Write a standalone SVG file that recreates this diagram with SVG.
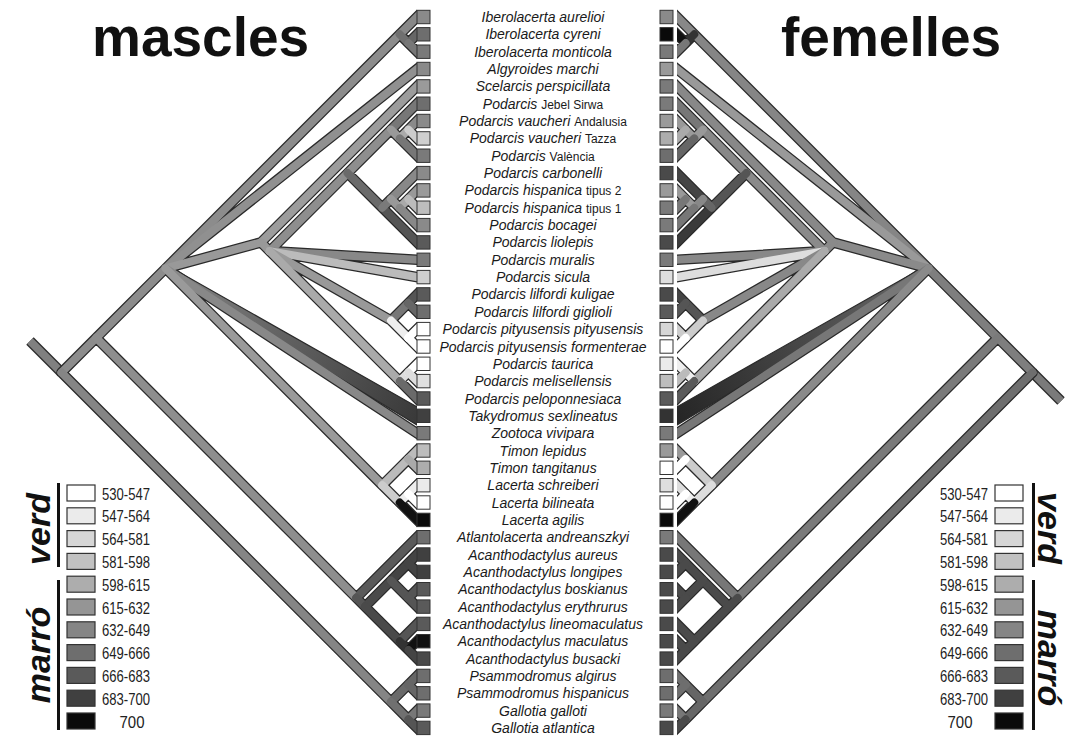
<svg xmlns="http://www.w3.org/2000/svg" xmlns:xlink="http://www.w3.org/1999/xlink" width="1079" height="738" viewBox="0 0 1079 738">
<style>
.o{fill:none;stroke:#2a2a2a;stroke-width:10.5;stroke-linecap:round;stroke-linejoin:round}
.f{fill:none;stroke-width:8;stroke-linecap:round;stroke-linejoin:round}
.so{fill:none;stroke:#2a2a2a;stroke-width:10.5;stroke-linecap:butt}
.sf{fill:none;stroke-width:8;stroke-linecap:butt}
.tk{stroke:#2a2a2a;stroke-width:1.2;stroke-linejoin:round}
.sq{stroke:#333;stroke-width:1}
.sp{font-family:"Liberation Sans",Arial,sans-serif;font-size:14px;font-style:italic;fill:#1a1a1a;text-anchor:middle}
.sm{font-style:normal;font-size:12px}
.lb{stroke:#333;stroke-width:1.2}
.lg{font-family:"Liberation Sans",Arial,sans-serif;font-size:17px;fill:#222}
.ti{font-family:"Liberation Sans",Arial,sans-serif;font-weight:bold;font-size:55px;fill:#111}
.rot{font-family:"Liberation Sans",Arial,sans-serif;font-weight:bold;font-style:italic;font-size:34px;fill:#111;text-anchor:middle}
</style>
<defs>
<clipPath id="clipL"><rect x="0" y="0" width="417" height="738"/></clipPath>
<linearGradient id="gTakM" gradientUnits="userSpaceOnUse" x1="165" y1="268" x2="417" y2="416"><stop offset="0" stop-color="#858585"/><stop offset="1" stop-color="#3a3a3a"/></linearGradient>
<linearGradient id="gTakF" gradientUnits="userSpaceOnUse" x1="165" y1="268" x2="417" y2="416"><stop offset="0" stop-color="#6a6a6a"/><stop offset="1" stop-color="#262626"/></linearGradient>
<path id="tak" d="M163.8 271.4L422.95 428.6L431.05 414.8L167.4 265.4Z"/>
<path id="E" d="M61.5 372.5L96.2 337.8M96.2 337.8L165.6 268.4M165.6 268.4L399.7 34.3M399.7 34.3L427 7M399.7 34.3L408.3 43M408.3 43L427 24.3M408.3 43L427 61.7M165.6 268.4L427 61.1M165.6 268.4L261 242.4M261 242.4L427 76.4M261 242.4L269.6 251.1M269.6 251.1L347.6 173.1M347.6 173.1L391 129.7M391 129.7L427 93.7M391 129.7L399.7 138.4M399.7 138.4L408.3 129.7M408.3 129.7L427 111M408.3 129.7L427 148.4M399.7 138.4L427 165.7M347.6 173.1L382.3 207.7M382.3 207.7L427 252.4M382.3 207.7L391 199.1M391 199.1L427 163.1M391 199.1L399.7 207.7M399.7 207.7L408.3 199.1M408.3 199.1L427 180.4M408.3 199.1L427 217.7M399.7 207.7L427 235.1M269.6 251.1L427 260.4M269.6 251.1L427 278.9M269.6 251.1L391 320.5M391 320.5L408.3 303.1M408.3 303.1L427 284.4M408.3 303.1L427 321.8M391 320.5L408.3 337.8M408.3 337.8L427 319.1M408.3 337.8L427 356.5M269.6 251.1L399.7 381.1M399.7 381.1L408.3 372.5M408.3 372.5L427 353.8M408.3 372.5L427 391.1M399.7 381.1L427 408.5M165.6 268.4L427 439.8M165.6 268.4L382.3 485.2M382.3 485.2L408.3 459.2M408.3 459.2L427 440.5M408.3 459.2L427 477.8M382.3 485.2L399.7 502.5M399.7 502.5L408.3 493.9M408.3 493.9L427 475.2M408.3 493.9L427 512.5M399.7 502.5L427 529.9M61.5 372.5L391 701.9M391 701.9L408.3 684.6M408.3 684.6L427 665.9M408.3 684.6L427 703.3M391 701.9L408.3 719.3M408.3 719.3L427 700.6M408.3 719.3L427 737.9M96.2 337.8L356.3 597.9M356.3 597.9L427 527.2M356.3 597.9L365 606.6M365 606.6L391 580.6M391 580.6L408.3 563.2M408.3 563.2L427 544.5M408.3 563.2L427 581.9M391 580.6L408.3 597.9M408.3 597.9L427 579.2M408.3 597.9L427 616.6M365 606.6L399.7 641.2M399.7 641.2L427 613.9M399.7 641.2L408.3 649.9M408.3 649.9L427 631.2M408.3 649.9L427 668.6"/>
<path id="e2" d="M61.5 372.5L96.2 337.8"/>
<path id="e3" d="M96.2 337.8L165.6 268.4"/>
<path id="e4" d="M165.6 268.4L399.7 34.3"/>
<path id="e5" d="M399.7 34.3L427 7"/>
<path id="e6" d="M399.7 34.3L408.3 43"/>
<path id="e7" d="M408.3 43L427 24.3"/>
<path id="e8" d="M408.3 43L427 61.7"/>
<path id="e9" d="M165.6 268.4L427 61.1"/>
<path id="e10" d="M165.6 268.4L261 242.4"/>
<path id="e11" d="M261 242.4L427 76.4"/>
<path id="e12" d="M261 242.4L269.6 251.1"/>
<path id="e13" d="M269.6 251.1L347.6 173.1"/>
<path id="e14" d="M347.6 173.1L391 129.7"/>
<path id="e15" d="M391 129.7L427 93.7"/>
<path id="e16" d="M391 129.7L399.7 138.4"/>
<path id="e17" d="M399.7 138.4L408.3 129.7"/>
<path id="e18" d="M408.3 129.7L427 111"/>
<path id="e19" d="M408.3 129.7L427 148.4"/>
<path id="e20" d="M399.7 138.4L427 165.7"/>
<path id="e21" d="M347.6 173.1L382.3 207.7"/>
<path id="e22" d="M382.3 207.7L427 252.4"/>
<path id="e23" d="M382.3 207.7L391 199.1"/>
<path id="e24" d="M391 199.1L427 163.1"/>
<path id="e25" d="M391 199.1L399.7 207.7"/>
<path id="e26" d="M399.7 207.7L408.3 199.1"/>
<path id="e27" d="M408.3 199.1L427 180.4"/>
<path id="e28" d="M408.3 199.1L427 217.7"/>
<path id="e29" d="M399.7 207.7L427 235.1"/>
<path id="e30" d="M269.6 251.1L427 260.4"/>
<path id="e31" d="M269.6 251.1L427 278.9"/>
<path id="e32" d="M269.6 251.1L391 320.5"/>
<path id="e33" d="M391 320.5L408.3 303.1"/>
<path id="e34" d="M408.3 303.1L427 284.4"/>
<path id="e35" d="M408.3 303.1L427 321.8"/>
<path id="e36" d="M391 320.5L408.3 337.8"/>
<path id="e37" d="M408.3 337.8L427 319.1"/>
<path id="e38" d="M408.3 337.8L427 356.5"/>
<path id="e39" d="M269.6 251.1L399.7 381.1"/>
<path id="e40" d="M399.7 381.1L408.3 372.5"/>
<path id="e41" d="M408.3 372.5L427 353.8"/>
<path id="e42" d="M408.3 372.5L427 391.1"/>
<path id="e43" d="M399.7 381.1L427 408.5"/>
<path id="e45" d="M165.6 268.4L427 439.8"/>
<path id="e46" d="M165.6 268.4L382.3 485.2"/>
<path id="e47" d="M382.3 485.2L408.3 459.2"/>
<path id="e48" d="M408.3 459.2L427 440.5"/>
<path id="e49" d="M408.3 459.2L427 477.8"/>
<path id="e50" d="M382.3 485.2L399.7 502.5"/>
<path id="e51" d="M399.7 502.5L408.3 493.9"/>
<path id="e52" d="M408.3 493.9L427 475.2"/>
<path id="e53" d="M408.3 493.9L427 512.5"/>
<path id="e54" d="M399.7 502.5L427 529.9"/>
<path id="e55" d="M61.5 372.5L391 701.9"/>
<path id="e56" d="M391 701.9L408.3 684.6"/>
<path id="e57" d="M408.3 684.6L427 665.9"/>
<path id="e58" d="M408.3 684.6L427 703.3"/>
<path id="e59" d="M391 701.9L408.3 719.3"/>
<path id="e60" d="M408.3 719.3L427 700.6"/>
<path id="e61" d="M408.3 719.3L427 737.9"/>
<path id="e62" d="M96.2 337.8L356.3 597.9"/>
<path id="e63" d="M356.3 597.9L427 527.2"/>
<path id="e64" d="M356.3 597.9L365 606.6"/>
<path id="e65" d="M365 606.6L391 580.6"/>
<path id="e66" d="M391 580.6L408.3 563.2"/>
<path id="e67" d="M408.3 563.2L427 544.5"/>
<path id="e68" d="M408.3 563.2L427 581.9"/>
<path id="e69" d="M391 580.6L408.3 597.9"/>
<path id="e70" d="M408.3 597.9L427 579.2"/>
<path id="e71" d="M408.3 597.9L427 616.6"/>
<path id="e72" d="M365 606.6L399.7 641.2"/>
<path id="e73" d="M399.7 641.2L427 613.9"/>
<path id="e74" d="M399.7 641.2L408.3 649.9"/>
<path id="e75" d="M408.3 649.9L427 631.2"/>
<path id="e76" d="M408.3 649.9L427 668.6"/>
</defs>
<rect x="0" y="0" width="1079" height="738" fill="#fff"/>

<text class="ti" x="92" y="56">mascles</text>
<text class="ti" x="781" y="56">femelles</text>

<g id="connectors">
 <g id="tree-mascles" clip-path="url(#clipL)">
  <path class="so" d="M61.5 372.5L30 341"/>
  <path class="sf" stroke="#808080" d="M61.5 372.5L30 341"/>
  <use xlink:href="#E" class="o"/>
  <use xlink:href="#tak" class="tk" fill="url(#gTakM)"/>
  <g class="f">
   <use xlink:href="#e2" stroke="#8c8c8c"/><use xlink:href="#e3" stroke="#8c8c8c"/><use xlink:href="#e4" stroke="#8c8c8c"/>
   <use xlink:href="#e5" stroke="#888"/><use xlink:href="#e6" stroke="#707070"/><use xlink:href="#e7" stroke="#666"/><use xlink:href="#e8" stroke="#777"/>
   <use xlink:href="#e9" stroke="#909090"/><use xlink:href="#e10" stroke="#999"/><use xlink:href="#e11" stroke="#9c9c9c"/><use xlink:href="#e12" stroke="#999"/>
   <use xlink:href="#e13" stroke="#8e8e8e"/><use xlink:href="#e14" stroke="#8e8e8e"/><use xlink:href="#e15" stroke="#777"/><use xlink:href="#e16" stroke="#999"/>
   <use xlink:href="#e17" stroke="#aaa"/><use xlink:href="#e18" stroke="#8a8a8a"/><use xlink:href="#e19" stroke="#ccc"/><use xlink:href="#e20" stroke="#777"/>
   <use xlink:href="#e21" stroke="#6a6a6a"/><use xlink:href="#e22" stroke="#555"/><use xlink:href="#e23" stroke="#7a7a7a"/><use xlink:href="#e24" stroke="#888"/>
   <use xlink:href="#e25" stroke="#999"/><use xlink:href="#e26" stroke="#aaa"/><use xlink:href="#e27" stroke="#999"/><use xlink:href="#e28" stroke="#bbb"/><use xlink:href="#e29" stroke="#888"/>
   <use xlink:href="#e30" stroke="#888"/><use xlink:href="#e31" stroke="#bbb"/><use xlink:href="#e32" stroke="#999"/>
   <use xlink:href="#e33" stroke="#777"/><use xlink:href="#e34" stroke="#555"/><use xlink:href="#e35" stroke="#666"/>
   <use xlink:href="#e36" stroke="#eee"/><use xlink:href="#e37" stroke="#fff"/><use xlink:href="#e38" stroke="#fff"/>
   <use xlink:href="#e39" stroke="#aaa"/><use xlink:href="#e40" stroke="#ddd"/><use xlink:href="#e41" stroke="#fff"/><use xlink:href="#e42" stroke="#ddd"/><use xlink:href="#e43" stroke="#6a6a6a"/>
   <use xlink:href="#e45" stroke="#888"/><use xlink:href="#e46" stroke="#9a9a9a"/>
   <use xlink:href="#e47" stroke="#bbb"/><use xlink:href="#e48" stroke="#bbb"/><use xlink:href="#e49" stroke="#aaa"/>
   <use xlink:href="#e50" stroke="#ccc"/><use xlink:href="#e51" stroke="#eee"/><use xlink:href="#e52" stroke="#eee"/><use xlink:href="#e53" stroke="#fff"/><use xlink:href="#e54" stroke="#111"/>
   <use xlink:href="#e55" stroke="#858585"/><use xlink:href="#e56" stroke="#6a6a6a"/><use xlink:href="#e57" stroke="#666"/><use xlink:href="#e58" stroke="#666"/>
   <use xlink:href="#e59" stroke="#707070"/><use xlink:href="#e60" stroke="#777"/><use xlink:href="#e61" stroke="#555"/>
   <use xlink:href="#e62" stroke="#8e8e8e"/><use xlink:href="#e63" stroke="#5a5a5a"/><use xlink:href="#e64" stroke="#555"/>
   <use xlink:href="#e65" stroke="#4a4a4a"/><use xlink:href="#e66" stroke="#444"/><use xlink:href="#e67" stroke="#444"/><use xlink:href="#e68" stroke="#444"/>
   <use xlink:href="#e69" stroke="#555"/><use xlink:href="#e70" stroke="#555"/><use xlink:href="#e71" stroke="#555"/>
   <use xlink:href="#e72" stroke="#4a4a4a"/><use xlink:href="#e73" stroke="#555"/><use xlink:href="#e74" stroke="#333"/><use xlink:href="#e75" stroke="#111"/><use xlink:href="#e76" stroke="#444"/>
  </g>
 </g>
 <g id="tree-femelles" transform="translate(1094,0) scale(-1,1)">
  <g clip-path="url(#clipL)">
  <path class="so" d="M61.5 372.5L33 401"/>
  <path class="sf" stroke="#7a7a7a" d="M61.5 372.5L33 401"/>
  <use xlink:href="#E" class="o"/>
  <use xlink:href="#tak" class="tk" fill="url(#gTakF)"/>
  <g class="f">
   <use xlink:href="#e2" stroke="#7e7e7e"/><use xlink:href="#e3" stroke="#7e7e7e"/><use xlink:href="#e4" stroke="#858585"/>
   <use xlink:href="#e5" stroke="#888"/><use xlink:href="#e6" stroke="#333"/><use xlink:href="#e7" stroke="#111"/><use xlink:href="#e8" stroke="#777"/>
   <use xlink:href="#e9" stroke="#999"/><use xlink:href="#e10" stroke="#8a8a8a"/><use xlink:href="#e11" stroke="#888"/><use xlink:href="#e12" stroke="#8a8a8a"/>
   <use xlink:href="#e13" stroke="#8a8a8a"/><use xlink:href="#e14" stroke="#888"/><use xlink:href="#e15" stroke="#777"/><use xlink:href="#e16" stroke="#999"/>
   <use xlink:href="#e17" stroke="#9a9a9a"/><use xlink:href="#e18" stroke="#999"/><use xlink:href="#e19" stroke="#aaa"/><use xlink:href="#e20" stroke="#666"/>
   <use xlink:href="#e21" stroke="#555"/><use xlink:href="#e22" stroke="#3a3a3a"/><use xlink:href="#e23" stroke="#666"/><use xlink:href="#e24" stroke="#444"/>
   <use xlink:href="#e25" stroke="#888"/><use xlink:href="#e26" stroke="#999"/><use xlink:href="#e27" stroke="#999"/><use xlink:href="#e28" stroke="#777"/><use xlink:href="#e29" stroke="#777"/>
   <use xlink:href="#e30" stroke="#888"/><use xlink:href="#e31" stroke="#ddd"/><use xlink:href="#e32" stroke="#888"/>
   <use xlink:href="#e33" stroke="#555"/><use xlink:href="#e34" stroke="#444"/><use xlink:href="#e35" stroke="#555"/>
   <use xlink:href="#e36" stroke="#ccc"/><use xlink:href="#e37" stroke="#ccc"/><use xlink:href="#e38" stroke="#fff"/>
   <use xlink:href="#e39" stroke="#aaa"/><use xlink:href="#e40" stroke="#eee"/><use xlink:href="#e41" stroke="#eee"/><use xlink:href="#e42" stroke="#bbb"/><use xlink:href="#e43" stroke="#5a5a5a"/>
   <use xlink:href="#e45" stroke="#777"/><use xlink:href="#e46" stroke="#8a8a8a"/>
   <use xlink:href="#e47" stroke="#ccc"/><use xlink:href="#e48" stroke="#999"/><use xlink:href="#e49" stroke="#fff"/>
   <use xlink:href="#e50" stroke="#ddd"/><use xlink:href="#e51" stroke="#eee"/><use xlink:href="#e52" stroke="#ddd"/><use xlink:href="#e53" stroke="#fff"/><use xlink:href="#e54" stroke="#111"/>
   <use xlink:href="#e55" stroke="#6e6e6e"/><use xlink:href="#e56" stroke="#666"/><use xlink:href="#e57" stroke="#6e6e6e"/><use xlink:href="#e58" stroke="#6e6e6e"/>
   <use xlink:href="#e59" stroke="#666"/><use xlink:href="#e60" stroke="#777"/><use xlink:href="#e61" stroke="#4a4a4a"/>
   <use xlink:href="#e62" stroke="#7a7a7a"/><use xlink:href="#e63" stroke="#777"/><use xlink:href="#e64" stroke="#4a4a4a"/>
   <use xlink:href="#e65" stroke="#4a4a4a"/><use xlink:href="#e66" stroke="#4a4a4a"/><use xlink:href="#e67" stroke="#4a4a4a"/><use xlink:href="#e68" stroke="#4a4a4a"/>
   <use xlink:href="#e69" stroke="#4a4a4a"/><use xlink:href="#e70" stroke="#4a4a4a"/><use xlink:href="#e71" stroke="#4a4a4a"/>
   <use xlink:href="#e72" stroke="#4a4a4a"/><use xlink:href="#e73" stroke="#4a4a4a"/><use xlink:href="#e74" stroke="#4a4a4a"/><use xlink:href="#e75" stroke="#4a4a4a"/><use xlink:href="#e76" stroke="#4a4a4a"/>
  </g>
  </g>
 </g>
</g>

<g id="species">
<g id="sp0"><rect class="sq" x="417" y="10.3" width="13" height="13.4" fill="#8a8a8a"/><rect class="sq" x="660" y="10.3" width="13" height="13.4" fill="#8a8a8a"/><text class="sp" x="543" y="22">Iberolacerta aurelioi</text></g>
<g id="sp1"><rect class="sq" x="417" y="27.6" width="13" height="13.4" fill="#6e6e6e"/><rect class="sq" x="660" y="27.6" width="13" height="13.4" fill="#0a0a0a"/><text class="sp" x="543" y="39.3">Iberolacerta cyreni</text></g>
<g id="sp2"><rect class="sq" x="417" y="45" width="13" height="13.4" fill="#7a7a7a"/><rect class="sq" x="660" y="45" width="13" height="13.4" fill="#7a7a7a"/><text class="sp" x="543" y="56.7">Iberolacerta monticola</text></g>
<g id="sp3"><rect class="sq" x="417" y="62.3" width="13" height="13.4" fill="#8a8a8a"/><rect class="sq" x="660" y="62.3" width="13" height="13.4" fill="#9a9a9a"/><text class="sp" x="543" y="74">Algyroides marchi</text></g>
<g id="sp4"><rect class="sq" x="417" y="79.7" width="13" height="13.4" fill="#9a9a9a"/><rect class="sq" x="660" y="79.7" width="13" height="13.4" fill="#7a7a7a"/><text class="sp" x="543" y="91.4">Scelarcis perspicillata</text></g>
<g id="sp5"><rect class="sq" x="417" y="97" width="13" height="13.4" fill="#6e6e6e"/><rect class="sq" x="660" y="97" width="13" height="13.4" fill="#7a7a7a"/><text class="sp" x="543" y="108.7">Podarcis <tspan class="sm">Jebel Sirwa</tspan></text></g>
<g id="sp6"><rect class="sq" x="417" y="114.3" width="13" height="13.4" fill="#8a8a8a"/><rect class="sq" x="660" y="114.3" width="13" height="13.4" fill="#9a9a9a"/><text class="sp" x="543" y="126">Podarcis vaucheri <tspan class="sm">Andalusia</tspan></text></g>
<g id="sp7"><rect class="sq" x="417" y="131.7" width="13" height="13.4" fill="#cfcfcf"/><rect class="sq" x="660" y="131.7" width="13" height="13.4" fill="#adadad"/><text class="sp" x="543" y="143.4">Podarcis vaucheri <tspan class="sm">Tazza</tspan></text></g>
<g id="sp8"><rect class="sq" x="417" y="149" width="13" height="13.4" fill="#7a7a7a"/><rect class="sq" x="660" y="149" width="13" height="13.4" fill="#6e6e6e"/><text class="sp" x="543" y="160.7">Podarcis <tspan class="sm">València</tspan></text></g>
<g id="sp9"><rect class="sq" x="417" y="166.4" width="13" height="13.4" fill="#8a8a8a"/><rect class="sq" x="660" y="166.4" width="13" height="13.4" fill="#4a4a4a"/><text class="sp" x="543" y="178.1">Podarcis carbonelli</text></g>
<g id="sp10"><rect class="sq" x="417" y="183.7" width="13" height="13.4" fill="#9a9a9a"/><rect class="sq" x="660" y="183.7" width="13" height="13.4" fill="#9a9a9a"/><text class="sp" x="543" y="195.4">Podarcis hispanica <tspan class="sm">tipus 2</tspan></text></g>
<g id="sp11"><rect class="sq" x="417" y="201" width="13" height="13.4" fill="#bdbdbd"/><rect class="sq" x="660" y="201" width="13" height="13.4" fill="#7a7a7a"/><text class="sp" x="543" y="212.7">Podarcis hispanica <tspan class="sm">tipus 1</tspan></text></g>
<g id="sp12"><rect class="sq" x="417" y="218.4" width="13" height="13.4" fill="#8a8a8a"/><rect class="sq" x="660" y="218.4" width="13" height="13.4" fill="#7a7a7a"/><text class="sp" x="543" y="230.1">Podarcis bocagei</text></g>
<g id="sp13"><rect class="sq" x="417" y="235.7" width="13" height="13.4" fill="#5a5a5a"/><rect class="sq" x="660" y="235.7" width="13" height="13.4" fill="#4a4a4a"/><text class="sp" x="543" y="247.4">Podarcis liolepis</text></g>
<g id="sp14"><rect class="sq" x="417" y="253.1" width="13" height="13.4" fill="#7a7a7a"/><rect class="sq" x="660" y="253.1" width="13" height="13.4" fill="#7a7a7a"/><text class="sp" x="543" y="264.8">Podarcis muralis</text></g>
<g id="sp15"><rect class="sq" x="417" y="270.4" width="13" height="13.4" fill="#cfcfcf"/><rect class="sq" x="660" y="270.4" width="13" height="13.4" fill="#dedede"/><text class="sp" x="543" y="282.1">Podarcis sicula</text></g>
<g id="sp16"><rect class="sq" x="417" y="287.7" width="13" height="13.4" fill="#5a5a5a"/><rect class="sq" x="660" y="287.7" width="13" height="13.4" fill="#4a4a4a"/><text class="sp" x="543" y="299.4">Podarcis lilfordi kuligae</text></g>
<g id="sp17"><rect class="sq" x="417" y="305.1" width="13" height="13.4" fill="#6e6e6e"/><rect class="sq" x="660" y="305.1" width="13" height="13.4" fill="#5a5a5a"/><text class="sp" x="543" y="316.8">Podarcis lilfordi giglioli</text></g>
<g id="sp18"><rect class="sq" x="417" y="322.4" width="13" height="13.4" fill="#fff"/><rect class="sq" x="660" y="322.4" width="13" height="13.4" fill="#d6d6d6"/><text class="sp" x="543" y="334.1">Podarcis pityusensis pityusensis</text></g>
<g id="sp19"><rect class="sq" x="417" y="339.8" width="13" height="13.4" fill="#fff"/><rect class="sq" x="660" y="339.8" width="13" height="13.4" fill="#fff"/><text class="sp" x="543" y="351.5">Podarcis pityusensis formenterae</text></g>
<g id="sp20"><rect class="sq" x="417" y="357.1" width="13" height="13.4" fill="#fff"/><rect class="sq" x="660" y="357.1" width="13" height="13.4" fill="#ebebeb"/><text class="sp" x="543" y="368.8">Podarcis taurica</text></g>
<g id="sp21"><rect class="sq" x="417" y="374.4" width="13" height="13.4" fill="#e0e0e0"/><rect class="sq" x="660" y="374.4" width="13" height="13.4" fill="#bdbdbd"/><text class="sp" x="543" y="386.1">Podarcis melisellensis</text></g>
<g id="sp22"><rect class="sq" x="417" y="391.8" width="13" height="13.4" fill="#5a5a5a"/><rect class="sq" x="660" y="391.8" width="13" height="13.4" fill="#5a5a5a"/><text class="sp" x="543" y="403.5">Podarcis peloponnesiaca</text></g>
<g id="sp23"><rect class="sq" x="417" y="409.1" width="13" height="13.4" fill="#404040"/><rect class="sq" x="660" y="409.1" width="13" height="13.4" fill="#333"/><text class="sp" x="543" y="420.8">Takydromus sexlineatus</text></g>
<g id="sp24"><rect class="sq" x="417" y="426.5" width="13" height="13.4" fill="#7a7a7a"/><rect class="sq" x="660" y="426.5" width="13" height="13.4" fill="#7a7a7a"/><text class="sp" x="543" y="438.2">Zootoca vivipara</text></g>
<g id="sp25"><rect class="sq" x="417" y="443.8" width="13" height="13.4" fill="#bdbdbd"/><rect class="sq" x="660" y="443.8" width="13" height="13.4" fill="#9a9a9a"/><text class="sp" x="543" y="455.5">Timon lepidus</text></g>
<g id="sp26"><rect class="sq" x="417" y="461.1" width="13" height="13.4" fill="#adadad"/><rect class="sq" x="660" y="461.1" width="13" height="13.4" fill="#fff"/><text class="sp" x="543" y="472.8">Timon tangitanus</text></g>
<g id="sp27"><rect class="sq" x="417" y="478.5" width="13" height="13.4" fill="#ebebeb"/><rect class="sq" x="660" y="478.5" width="13" height="13.4" fill="#dedede"/><text class="sp" x="543" y="490.2">Lacerta schreiberi</text></g>
<g id="sp28"><rect class="sq" x="417" y="495.8" width="13" height="13.4" fill="#fff"/><rect class="sq" x="660" y="495.8" width="13" height="13.4" fill="#fff"/><text class="sp" x="543" y="507.5">Lacerta bilineata</text></g>
<g id="sp29"><rect class="sq" x="417" y="513.2" width="13" height="13.4" fill="#0a0a0a"/><rect class="sq" x="660" y="513.2" width="13" height="13.4" fill="#0a0a0a"/><text class="sp" x="543" y="524.9">Lacerta agilis</text></g>
<g id="sp30"><rect class="sq" x="417" y="530.5" width="13" height="13.4" fill="#6e6e6e"/><rect class="sq" x="660" y="530.5" width="13" height="13.4" fill="#7a7a7a"/><text class="sp" x="543" y="542.2">Atlantolacerta andreanszkyi</text></g>
<g id="sp31"><rect class="sq" x="417" y="547.8" width="13" height="13.4" fill="#404040"/><rect class="sq" x="660" y="547.8" width="13" height="13.4" fill="#4a4a4a"/><text class="sp" x="543" y="559.5">Acanthodactylus aureus</text></g>
<g id="sp32"><rect class="sq" x="417" y="565.2" width="13" height="13.4" fill="#404040"/><rect class="sq" x="660" y="565.2" width="13" height="13.4" fill="#4a4a4a"/><text class="sp" x="543" y="576.9">Acanthodactylus longipes</text></g>
<g id="sp33"><rect class="sq" x="417" y="582.5" width="13" height="13.4" fill="#5a5a5a"/><rect class="sq" x="660" y="582.5" width="13" height="13.4" fill="#4a4a4a"/><text class="sp" x="543" y="594.2">Acanthodactylus boskianus</text></g>
<g id="sp34"><rect class="sq" x="417" y="599.9" width="13" height="13.4" fill="#5a5a5a"/><rect class="sq" x="660" y="599.9" width="13" height="13.4" fill="#4a4a4a"/><text class="sp" x="543" y="611.6">Acanthodactylus erythrurus</text></g>
<g id="sp35"><rect class="sq" x="417" y="617.2" width="13" height="13.4" fill="#5a5a5a"/><rect class="sq" x="660" y="617.2" width="13" height="13.4" fill="#4a4a4a"/><text class="sp" x="543" y="628.9">Acanthodactylus lineomaculatus</text></g>
<g id="sp36"><rect class="sq" x="417" y="634.5" width="13" height="13.4" fill="#111"/><rect class="sq" x="660" y="634.5" width="13" height="13.4" fill="#4a4a4a"/><text class="sp" x="543" y="646.2">Acanthodactylus maculatus</text></g>
<g id="sp37"><rect class="sq" x="417" y="651.9" width="13" height="13.4" fill="#4a4a4a"/><rect class="sq" x="660" y="651.9" width="13" height="13.4" fill="#4a4a4a"/><text class="sp" x="543" y="663.6">Acanthodactylus busacki</text></g>
<g id="sp38"><rect class="sq" x="417" y="669.2" width="13" height="13.4" fill="#6e6e6e"/><rect class="sq" x="660" y="669.2" width="13" height="13.4" fill="#6e6e6e"/><text class="sp" x="543" y="680.9">Psammodromus algirus</text></g>
<g id="sp39"><rect class="sq" x="417" y="686.6" width="13" height="13.4" fill="#6e6e6e"/><rect class="sq" x="660" y="686.6" width="13" height="13.4" fill="#6e6e6e"/><text class="sp" x="543" y="698.3">Psammodromus hispanicus</text></g>
<g id="sp40"><rect class="sq" x="417" y="703.9" width="13" height="13.4" fill="#7a7a7a"/><rect class="sq" x="660" y="703.9" width="13" height="13.4" fill="#7a7a7a"/><text class="sp" x="543" y="715.6">Gallotia galloti</text></g>
<g id="sp41"><rect class="sq" x="417" y="721.2" width="13" height="13.4" fill="#5a5a5a"/><rect class="sq" x="660" y="721.2" width="13" height="13.4" fill="#4a4a4a"/><text class="sp" x="543" y="732.9">Gallotia atlantica</text></g>
</g>

<g id="legend-mascles">
 <rect x="57" y="483" width="3" height="84" fill="#111"/>
 <rect x="57" y="580" width="3" height="150" fill="#111"/>
 <text class="rot" transform="translate(50,529) rotate(-90)">verd</text>
 <text class="rot" transform="translate(50,655) rotate(-90)">marró</text>
 <rect class="lb" x="67" y="485" width="28" height="16" fill="#ffffff"/>
 <rect class="lb" x="67" y="507.8" width="28" height="16" fill="#ebebeb"/>
 <rect class="lb" x="67" y="530.6" width="28" height="16" fill="#d6d6d6"/>
 <rect class="lb" x="67" y="553.4" width="28" height="16" fill="#c2c2c2"/>
 <rect class="lb" x="67" y="576.2" width="28" height="16" fill="#adadad"/>
 <rect class="lb" x="67" y="599" width="28" height="16" fill="#959595"/>
 <rect class="lb" x="67" y="621.8" width="28" height="16" fill="#858585"/>
 <rect class="lb" x="67" y="644.6" width="28" height="16" fill="#6e6e6e"/>
 <rect class="lb" x="67" y="667.4" width="28" height="16" fill="#5a5a5a"/>
 <rect class="lb" x="67" y="690.2" width="28" height="16" fill="#404040"/>
 <rect class="lb" x="67" y="713" width="28" height="16" fill="#0a0a0a"/>
 <g class="lg">
  <text x="102" y="499.5" textLength="48" lengthAdjust="spacingAndGlyphs">530-547</text>
  <text x="102" y="522.3" textLength="48" lengthAdjust="spacingAndGlyphs">547-564</text>
  <text x="102" y="545.1" textLength="48" lengthAdjust="spacingAndGlyphs">564-581</text>
  <text x="102" y="567.9" textLength="48" lengthAdjust="spacingAndGlyphs">581-598</text>
  <text x="102" y="590.7" textLength="48" lengthAdjust="spacingAndGlyphs">598-615</text>
  <text x="102" y="613.5" textLength="48" lengthAdjust="spacingAndGlyphs">615-632</text>
  <text x="102" y="636.3" textLength="48" lengthAdjust="spacingAndGlyphs">632-649</text>
  <text x="102" y="659.1" textLength="48" lengthAdjust="spacingAndGlyphs">649-666</text>
  <text x="102" y="681.9" textLength="48" lengthAdjust="spacingAndGlyphs">666-683</text>
  <text x="102" y="704.7" textLength="48" lengthAdjust="spacingAndGlyphs">683-700</text>
  <text x="132" y="727.5" text-anchor="middle" textLength="25" lengthAdjust="spacingAndGlyphs">700</text>
 </g>
</g>

<g id="legend-femelles">
 <rect x="1032" y="483" width="3" height="84" fill="#111"/>
 <rect x="1032" y="580" width="3" height="150" fill="#111"/>
 <text class="rot" transform="translate(1038,528) rotate(90)">verd</text>
 <text class="rot" transform="translate(1038,658) rotate(90)">marró</text>
 <rect class="lb" x="995" y="485" width="28" height="16" fill="#ffffff"/>
 <rect class="lb" x="995" y="507.8" width="28" height="16" fill="#ebebeb"/>
 <rect class="lb" x="995" y="530.6" width="28" height="16" fill="#d6d6d6"/>
 <rect class="lb" x="995" y="553.4" width="28" height="16" fill="#c2c2c2"/>
 <rect class="lb" x="995" y="576.2" width="28" height="16" fill="#adadad"/>
 <rect class="lb" x="995" y="599" width="28" height="16" fill="#959595"/>
 <rect class="lb" x="995" y="621.8" width="28" height="16" fill="#858585"/>
 <rect class="lb" x="995" y="644.6" width="28" height="16" fill="#6e6e6e"/>
 <rect class="lb" x="995" y="667.4" width="28" height="16" fill="#5a5a5a"/>
 <rect class="lb" x="995" y="690.2" width="28" height="16" fill="#404040"/>
 <rect class="lb" x="995" y="713" width="28" height="16" fill="#0a0a0a"/>
 <g class="lg" text-anchor="end">
  <text x="988" y="499.5" textLength="48" lengthAdjust="spacingAndGlyphs">530-547</text>
  <text x="988" y="522.3" textLength="48" lengthAdjust="spacingAndGlyphs">547-564</text>
  <text x="988" y="545.1" textLength="48" lengthAdjust="spacingAndGlyphs">564-581</text>
  <text x="988" y="567.9" textLength="48" lengthAdjust="spacingAndGlyphs">581-598</text>
  <text x="988" y="590.7" textLength="48" lengthAdjust="spacingAndGlyphs">598-615</text>
  <text x="988" y="613.5" textLength="48" lengthAdjust="spacingAndGlyphs">615-632</text>
  <text x="988" y="636.3" textLength="48" lengthAdjust="spacingAndGlyphs">632-649</text>
  <text x="988" y="659.1" textLength="48" lengthAdjust="spacingAndGlyphs">649-666</text>
  <text x="988" y="681.9" textLength="48" lengthAdjust="spacingAndGlyphs">666-683</text>
  <text x="988" y="704.7" textLength="48" lengthAdjust="spacingAndGlyphs">683-700</text>
  <text x="960" y="727.5" text-anchor="middle" textLength="25" lengthAdjust="spacingAndGlyphs">700</text>
 </g>
</g>
</svg>
